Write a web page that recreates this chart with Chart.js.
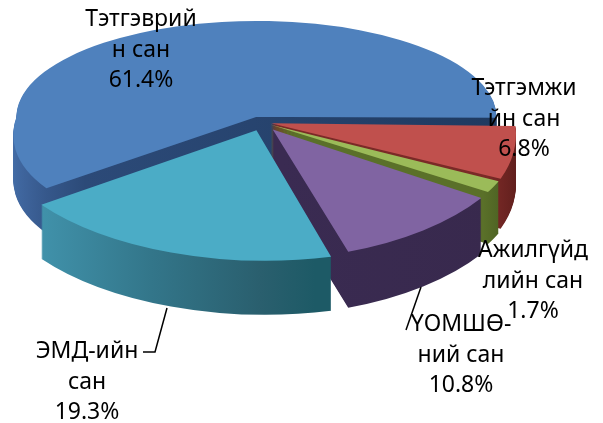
<!DOCTYPE html>
<html>
<head>
<meta charset="utf-8">
<style>
  html, body { margin: 0; padding: 0; background: #fff; }
  canvas { display: block; }
</style>
<script src="https://cdn.jsdelivr.net/npm/chart.js@4"></script>
</head>
<body>
<canvas id="pie" width="603" height="423"></canvas>
<script>
// Chart data, clockwise from the east side of the pie
const categories = ['Тэтгэмжийн сан', 'Ажилгүйдлийн сан', 'ҮОМШӨ-ний сан', 'ЭМД-ийн сан', 'Тэтгэврийн сан'];
const shares = [6.8, 1.7, 10.8, 19.3, 61.4];
const labelLines = [['Тэтгэмжи', 'йн сан'], ['Ажилгүйд', 'лийн сан'], ['ҮОМШӨ-', 'ний сан'], ['ЭМД-ийн', 'сан'], ['Тэтгэврий', 'н сан']];

// Face colours
const topColors = ['#c0504d', '#9bbb59', '#8064a2', '#4bacc6', '#4f81bd'];

// Look of the tilted pie
const pieCenter = { x: 261, y: 122 };
const radiusBack = 96;   // vertical radius behind the centre (perspective)
const radiusFront = [130, 130, 130, 130, 112]; // vertical radius in front of the centre
const radiusX = [244, 250, 252, 268, 240];
const frontShear = [0.16, 0.06, -0.08, -0.12, -0.35];
const frontTilt = [0, 0, 0, 0.045, 0];
const wallDepth = [50, 52, 56, 54, 45];
const wallOrder = [4, 0, 1, 2, 3];
const wallStops = [
  [[470, '#7a2a27'], [512, '#5a1c1a']],
  [[470, '#5a7029'], [500, '#465a20']],
  [[270, '#3a2b52'], [490, '#38294d']],
  [[42, '#4295ae'], [170, '#33768a'], [280, '#2a5f6e'], [335, '#1d5a66']],
  [[14, '#4570ab'], [50, '#3d6299'], [110, '#2c4a78'], [500, '#1f3a60']]
];
const labelPos = [
  { x: 524, y: 95 }, { x: 533, y: 257 }, { x: 461, y: 331 }, { x: 87, y: 358 }, { x: 141, y: 26 }
];
const lineHeight = 30.5;
const leaders = [
  [[167, 308], [155, 352], [143, 352]],
  [[421, 287], [406, 330]]
];

// Paints one arc element with the tilt applied; front and back get their own vertical radius
function paintArc(ctx, arc, i, fillFor, drop) {
  const saved = arc.options;
  const mid = (arc.startAngle + arc.endAngle) / 2;
  const off = saved.offset / 4;
  // Arc.draw grows the radius by the offset on narrow slices, so scale from the real radius
  const R = arc.outerRadius + off * (1 - Math.sin(Math.min(Math.PI, arc.circumference)));
  const sx = radiusX[i] / R;
  const ox = Math.cos(mid) * off, oy = Math.sin(mid) * off;
  const kBack = radiusBack / R, kFront = radiusFront[i] / R;
  const ax = pieCenter.x + ox * sx;
  const ay = pieCenter.y + oy * (oy < 0 ? kBack : kFront) + drop;
  const split = Math.round(ay);

  [[kBack, 0, 0, 0, split], [kFront, frontShear[i], frontTilt[i], split, 423 - split]].forEach(([ky, shear, tilt, top, h]) => {
    ctx.save();
    ctx.beginPath();
    ctx.rect(0, top, 603, h);
    ctx.clip();
    ctx.translate(ax, ay);
    ctx.transform(1, tilt, shear, 1, 0, 0);
    ctx.scale(sx, ky);
    ctx.translate(-arc.x - ox, -arc.y - oy);
    arc.options = { ...saved, backgroundColor: fillFor(x => (x - ax) / sx + arc.x + ox) };
    arc.draw(ctx);
    arc.options = saved;
    ctx.restore();
  });
}

const tiltedPie = {
  id: 'tiltedPie',
  beforeDatasetDraw(chart) {
    const ctx = chart.ctx;
    const arcs = chart.getDatasetMeta(0).data;
    // side walls first, back to front
    wallOrder.forEach(i => {
      const fill = toChart => {
        const stops = wallStops[i];
        const g = ctx.createLinearGradient(toChart(stops[0][0]), 0, toChart(stops[stops.length - 1][0]), 0);
        const span = stops[stops.length - 1][0] - stops[0][0];
        stops.forEach(s => g.addColorStop((s[0] - stops[0][0]) / span, s[1]));
        return g;
      };
      for (let d = wallDepth[i]; d >= 1; d--) paintArc(ctx, arcs[i], i, fill, d);
    });
    // then the top faces
    arcs.forEach((arc, i) => paintArc(ctx, arc, i, () => topColors[i], 0));
    return false;
  },
  afterDraw(chart) {
    const ctx = chart.ctx;
    ctx.save();
    ctx.strokeStyle = '#000';
    ctx.lineWidth = 1.5;
    leaders.forEach(pts => {
      ctx.beginPath();
      pts.forEach((p, n) => n ? ctx.lineTo(p[0], p[1]) : ctx.moveTo(p[0], p[1]));
      ctx.stroke();
    });
    ctx.fillStyle = '#000';
    ctx.font = '23px "Noto Sans"';
    ctx.textAlign = 'center';
    ctx.textBaseline = 'alphabetic';
    labelLines.forEach((lines, i) => {
      const text = [...lines, shares[i].toFixed(1) + '%'];
      text.forEach((t, n) => ctx.fillText(t, labelPos[i].x, labelPos[i].y + n * lineHeight));
    });
    ctx.restore();
  }
};

new Chart(document.getElementById('pie').getContext('2d'), {
  type: 'pie',
  data: {
    labels: categories,
    datasets: [{
      data: shares,
      backgroundColor: topColors,
      borderWidth: 0,
      offset: [32, 32, 56, 48, 44]
    }]
  },
  options: {
    responsive: false,
    animation: false,
    rotation: 91,
    plugins: { legend: { display: false }, tooltip: { enabled: false } }
  },
  plugins: [tiltedPie]
});
</script>
</body>
</html>
